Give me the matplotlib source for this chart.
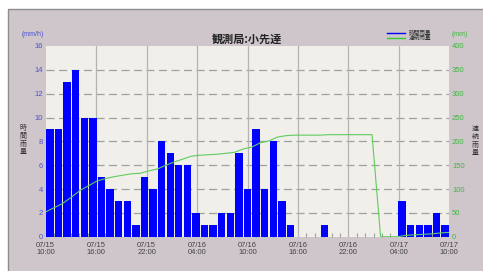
import matplotlib
matplotlib.use('Agg')
import matplotlib.pyplot as plt
import numpy as np
from matplotlib.patches import Rectangle
from matplotlib.lines import Line2D

# hourly rainfall (mm/h), 47 bars
rain = [9, 9, 13, 14, 10, 10, 5, 4, 3, 3, 1, 5, 4, 8, 7, 6, 6, 2, 1, 1, 2, 2, 7, 4,
        9, 4, 8, 3, 1, 0, 0, 0, 1, 0, 0, 0, 0, 0, 0, 0, 0, 3, 1, 1, 1, 2, 1]
# continuous rainfall (mm), 48 points at bar boundaries
cont = [52, 61, 70, 83, 97, 107, 117, 122, 126, 129, 132, 133, 138, 142, 150, 157,
        163, 169, 171, 172, 173, 175, 177, 184, 188, 197, 201, 209, 212, 213, 213, 213,
        213, 214, 214, 214, 214, 214, 214, 0, 0, 0, 3, 4, 5, 6, 8, 9]
xlabels = ['07/15\n10:00', '07/15\n16:00', '07/15\n22:00', '07/16\n04:00', '07/16\n10:00',
           '07/16\n16:00', '07/16\n22:00', '07/17\n04:00', '07/17\n10:00']
left_ticks = [0, 2, 4, 6, 8, 10, 12, 14, 16]
right_ticks = [0, 50, 100, 150, 200, 250, 300, 350, 400]

JP = ['Noto Sans CJK JP', 'DejaVu Sans']
plt.rcParams['font.family'] = ['Liberation Sans', 'Noto Sans CJK JP', 'DejaVu Sans']
plt.rcParams['lines.scale_dashes'] = False

W, H = 483, 271
fig = plt.figure(figsize=(W / 100, H / 100), dpi=100)
fig.patch.set_facecolor('white')
bg = fig.add_axes([0, 0, 1, 1], zorder=-10)
bg.set_xlim(0, W)
bg.set_ylim(H, 0)
bg.axis('off')
bg.add_patch(Rectangle((7.5, 8.5), W, H, facecolor='#cec6cb', edgecolor='#8c8c8c', lw=1))

L, R, T, B = 45.7, 449.3, 46, 236.7
ax = fig.add_axes([L / W, 1 - B / H, (R - L) / W, (B - T) / H])
ax.set_facecolor('#f0efe9')
n = len(rain)
x = np.arange(n) + 0.5
ax.bar(x, rain, width=0.86, color='#0000ff', zorder=3)
ax.set_xlim(0, n)
ax.set_ylim(left_ticks[0], left_ticks[-1])

majors = np.linspace(0, n, len(xlabels))
ax.set_xticks(majors)
ax.set_xticklabels(xlabels, linespacing=1.05)
ax.set_xticks(np.linspace(0, n, 49), minor=True)
ax.tick_params(axis='x', which='major', length=0, labelsize=5.5, labelcolor='#444444', pad=3.5)
ax.tick_params(axis='x', which='minor', direction='in', length=3, color='#a0a0a0', width=0.8)
ax.set_yticks(left_ticks)
ax.tick_params(axis='y', length=0, labelsize=5.5, labelcolor='#5050d0', pad=2)

for v in left_ticks[1:-1]:
    ax.axhline(v, color='#a0a0a0', lw=0.9, dashes=(5.8, 3.2), zorder=1)
for t in majors[1:-1]:
    ax.axvline(t, color='#b4b4b4', lw=0.9, zorder=1)
for s in ax.spines.values():
    s.set_visible(False)

ax2 = ax.twinx()
ax2.set_ylim(right_ticks[0], right_ticks[-1])
ax2.set_yticks(right_ticks)
ax2.tick_params(axis='y', length=0, labelsize=5.5, labelcolor='#40b840', pad=2)
for s in ax2.spines.values():
    s.set_visible(False)
ax2.plot(np.arange(len(cont)), cont, color='#5fcc5f', lw=0.8, zorder=5)

fig.text(246.7 / W, 1 - 39 / H, '観測局:小先達', ha='center', va='center', fontsize=8,
         fontweight='bold', family=JP, color='#222222')
fig.text(33 / W, 1 - 34 / H, '(mm/h)', ha='center', va='center', fontsize=5, color='#5050d0')
fig.text(452 / W, 1 - 34 / H, '(mm)', ha='left', va='center', fontsize=5, color='#40b840')

fig.text(23 / W, 1 - 140 / H, '時\n間\n雨\n量', ha='center', va='center', fontsize=5,
         linespacing=1.0, family=JP, color='#333333')
fig.text(475 / W, 1 - 141 / H, '連\n続\n雨\n量', ha='center', va='center', fontsize=5,
         linespacing=1.0, family=JP, color='#333333')

fig.lines.append(Line2D([387 / W, 405 / W], [1 - 33.3 / H, 1 - 33.3 / H],
                        transform=fig.transFigure, color='#0000ff', lw=1))
fig.lines.append(Line2D([387 / W, 405 / W], [1 - 38.0 / H, 1 - 38.0 / H],
                        transform=fig.transFigure, color='#33cc33', lw=1))
fig.text(409 / W, 1 - 32.8 / H, '時間雨量', ha='left', va='center', fontsize=4.1, family=JP,
         color='#333333')
fig.text(409 / W, 1 - 38.3 / H, '連続雨量', ha='left', va='center', fontsize=4.1, family=JP,
         color='#333333')

fig.savefig('out.png', dpi=100, facecolor=fig.get_facecolor())
